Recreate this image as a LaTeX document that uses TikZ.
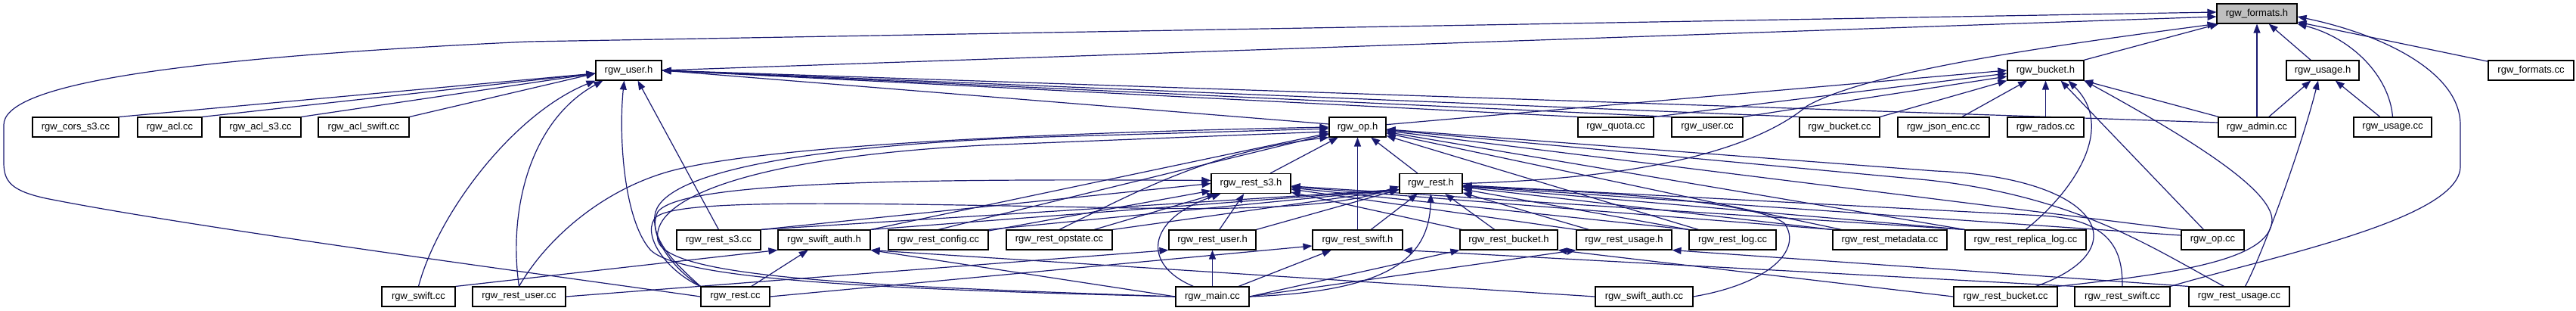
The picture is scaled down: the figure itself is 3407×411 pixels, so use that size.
\documentclass[tikz,border=0pt]{standalone}
\usepackage{fontspec}
\setmainfont{Liberation Sans}
\usetikzlibrary{arrows.meta}
\definecolor{edgecol}{HTML}{191970}
\definecolor{rootfill}{HTML}{BFBFBF}
\pgfdeclarelayer{bg}
\pgfsetlayers{bg,main}
\newcommand{\mkbox}[5]{\node[nd, minimum width=#4] (#1) at (#2,#3) {#5};}
\begin{document}
\begin{tikzpicture}[x=0.5pt,y=-0.5pt,
  nd/.style={draw=black, line width=0.55pt, fill=white, minimum height=13pt, inner sep=0pt, font=\fontsize{6.5pt}{7pt}\selectfont},
  dep/.style={draw=edgecol, line width=0.6pt, -{Triangle[length=6pt,width=4.5pt]}}]
\useasboundingbox (0,0) rectangle (3407,411);
% row 0
\node[nd, fill=rootfill, minimum width=53pt] (F) at (2985,18) {rgw\_formats.h};
% row 1
\mkbox{U}{831.5}{93}{43.5pt}{rgw\_user.h}
\mkbox{B}{2705.5}{93}{50.5pt}{rgw\_bucket.h}
\mkbox{UH}{3072}{93}{48pt}{rgw\_usage.h}
\mkbox{FC}{3347.5}{93}{56.5pt}{rgw\_formats.cc}
% row 2
\mkbox{CORS}{100}{168}{57pt}{rgw\_cors\_s3.cc}
\mkbox{ACL}{224.5}{168}{42.5pt}{rgw\_acl.cc}
\mkbox{ACLS3}{344.5}{168}{53.5pt}{rgw\_acl\_s3.cc}
\mkbox{ACLSW}{481}{168}{60pt}{rgw\_acl\_swift.cc}
\mkbox{OP}{1795.5}{168}{37.5pt}{rgw\_op.h}
\mkbox{QUOTA}{2137}{168}{50pt}{rgw\_quota.cc}
\mkbox{USERCC}{2258}{168}{47pt}{rgw\_user.cc}
\mkbox{BUCKETCC}{2433}{168}{53pt}{rgw\_bucket.cc}
\mkbox{JSON}{2570.5}{168}{60.5pt}{rgw\_json\_enc.cc}
\mkbox{RADOS}{2705.5}{168}{50.5pt}{rgw\_rados.cc}
\mkbox{ADMIN}{2985}{168}{51pt}{rgw\_admin.cc}
\mkbox{USAGECC}{3164.5}{168}{51.5pt}{rgw\_usage.cc}
% row 3
\mkbox{RS3H}{1654.5}{242.5}{52.5pt}{rgw\_rest\_s3.h}
\mkbox{RESTH}{1892.5}{242.5}{41.5pt}{rgw\_rest.h}
% row 4
\mkbox{RS3CC}{950.5}{317}{55.5pt}{rgw\_rest\_s3.cc}
\mkbox{SWAH}{1090}{317}{61pt}{rgw\_swift\_auth.h}
\mkbox{RCONF}{1241}{317}{66pt}{rgw\_rest\_config.cc}
\mkbox{ROPS}{1401}{317}{70pt}{rgw\_rest\_opstate.cc}
\mkbox{RUSERH}{1603.5}{317}{57.5pt}{rgw\_rest\_user.h}
\mkbox{RSWH}{1795.5}{317}{59.5pt}{rgw\_rest\_swift.h}
\mkbox{RBUCKH}{1995.5}{317}{64.5pt}{rgw\_rest\_bucket.h}
\mkbox{RUSAGEH}{2148}{317}{63pt}{rgw\_rest\_usage.h}
\mkbox{RLOG}{2291.5}{317}{57.5pt}{rgw\_rest\_log.cc}
\mkbox{RMETA}{2499.5}{317}{75.5pt}{rgw\_rest\_metadata.cc}
\mkbox{RREPL}{2679}{317}{80pt}{rgw\_rest\_replica\_log.cc}
\mkbox{OPCC}{2926.5}{317}{41.5pt}{rgw\_op.cc}
% row 5
\mkbox{SWIFTCC}{553.5}{392}{48.5pt}{rgw\_swift.cc}
\mkbox{RUSERCC}{686.5}{392}{61.5pt}{rgw\_rest\_user.cc}
\mkbox{RESTCC}{972.5}{392}{45.5pt}{rgw\_rest.cc}
\mkbox{MAIN}{1603.5}{392}{48.5pt}{rgw\_main.cc}
\mkbox{SWAC}{2174.5}{392}{64.5pt}{rgw\_swift\_auth.cc}
\mkbox{RBUCKCC}{2652.5}{392}{68.5pt}{rgw\_rest\_bucket.cc}
\mkbox{RSWCC}{2807}{392}{63pt}{rgw\_rest\_swift.cc}
\mkbox{RUSAGECC}{2961.5}{392}{66.5pt}{rgw\_rest\_usage.cc}

\begin{pgfonlayer}{bg}
% ---- into rgw_formats.h
\draw[dep] (RESTCC.west) .. controls (700,360) and (250,300) .. (60,262) .. controls (15,252) and (5,240) .. (5,215) -- (5,165) .. controls (5,115) and (200,78) .. (700,55) -- ([yshift=1pt]F.west);
\draw[dep] (U.east) -- ([yshift=-2pt]F.west);
\draw[dep] (B) -- (F);
\draw[dep] (UH) -- (F);
\draw[dep] (FC) -- (F);
\draw[dep] (ADMIN) -- (F);
\draw[dep] (USAGECC.north) .. controls (3160,100) and (3110,50) .. (F.south east);
\draw[dep] (RESTH.east) .. controls (2200,235) and (2330,190) .. (2390,140) .. controls (2470,95) and (2700,62) .. (F.south west);
\draw[dep] (RSWCC.north east) .. controls (3000,340) and (3254,290) .. (3254,220) -- (3254,165) .. controls (3254,95) and (3150,45) .. ([yshift=-2pt]F.east);
% ---- into rgw_user.h
\draw[dep] (CORS.north east) -- ([yshift=-2pt]U.west);
\draw[dep] (ACL.north east) -- ([yshift=-2pt]U.west);
\draw[dep] (ACLS3.north east) -- ([yshift=-2pt]U.west);
\draw[dep] (ACLSW.north east) -- ([yshift=-2pt]U.west);
\draw[dep] (SWIFTCC.north) .. controls (580,280) and (680,150) .. (U.south west);
\draw[dep] (RUSERCC.north) .. controls (672,280) and (700,160) .. ([xshift=5pt]U.south west);
\draw[dep] (RS3CC.north) -- ([xshift=6pt]U.south);
\draw[dep] (MAIN.west) .. controls (1200,383) and (900,372) .. (860,330) .. controls (825,290) and (818,180) .. ([xshift=-3pt]U.south);
\draw[dep] ([yshift=2pt]OP.west) -- (U.east);
\draw[dep] (QUOTA.north west) -- (U.east);
\draw[dep] (USERCC.north west) -- (U.east);
\draw[dep] (BUCKETCC.north west) -- (U.east);
\draw[dep] ([yshift=3pt]ADMIN.west) -- (U.east);
% ---- into rgw_bucket.h
\draw[dep] (OP) -- (B.west);
\draw[dep] (QUOTA.north east) -- ([yshift=-2pt]B.west);
\draw[dep] (USERCC.north east) -- ([yshift=-4pt]B.west);
\draw[dep] (BUCKETCC.north east) -- (B.south west);
\draw[dep] (JSON) -- (B);
\draw[dep] (RADOS) -- (B);
\draw[dep] (RREPL.north) .. controls (2740,255) and (2800,170) .. ([xshift=15pt]B.south);
\draw[dep] ([xshift=-6pt]OPCC.north) -- ([xshift=10pt]B.south);
\draw[dep] (RBUCKCC.north east) .. controls (2870,362) and (3005,345) .. (3005,290) .. controls (3003,250) and (2900,185) .. (B.south east);
\draw[dep] (ADMIN) -- (B);
% ---- into rgw_usage.h
\draw[dep] (ADMIN) -- (UH);
\draw[dep] (USAGECC) -- (UH);
\draw[dep] ([xshift=4pt]RUSAGECC.north) .. controls (2995,330) and (3045,190) .. ([xshift=-3pt]UH.south);
% ---- into rgw_op.h
\draw[dep] (RS3H) -- (OP);
\draw[dep] (RESTH) -- (OP);
\draw[dep] (RSWH) -- (OP);
\draw[dep] (SWAH.north east) -- (OP);
\draw[dep] (RCONF.north) -- (OP);
\draw[dep] (ROPS.north) .. controls (1500,255) and (1600,200) .. (OP.south west);
\draw[dep] (RESTCC.north west) .. controls (895,350) and (862,320) .. (866,285) .. controls (872,230) and (1050,195) .. (1350,182) -- ([yshift=-1pt]OP.west);
\draw[dep] (RUSERCC.north) .. controls (720,320) and (790,255) .. (880,228) .. controls (1000,192) and (1400,175) .. (OP.west);
\draw[dep] (MAIN.west) .. controls (1150,378) and (885,368) .. (870,318) .. controls (860,260) and (1000,208) .. (1300,192) .. controls (1500,184) and (1650,178) .. ([yshift=-3pt]OP.west);
\draw[dep] (OPCC.north west) -- (OP);
\draw[dep] (RLOG) -- (OP);
\draw[dep] (RMETA) -- (OP);
\draw[dep] (RREPL) -- (OP);
\draw[dep] ([xshift=20pt]RBUCKCC.north) .. controls (2830,330) and (2780,235) .. (2560,226) -- (OP);
\draw[dep] ([xshift=-10pt]RUSAGECC.north) .. controls (2850,330) and (2750,260) .. (2550,238) -- (OP);
% ---- into rgw_rest_s3.h
\draw[dep] (RS3CC.north east) -- (RS3H.west);
\draw[dep] (RCONF) -- (RS3H);
\draw[dep] (ROPS) -- (RS3H);
\draw[dep] (RUSERH) -- (RS3H);
\draw[dep] ([xshift=12pt]MAIN.north west) .. controls (1510,350) and (1515,290) .. ([xshift=-20pt]RS3H.south);
\draw[dep] (RESTCC.north west) .. controls (890,355) and (855,310) .. (870,280) .. controls (900,240) and (1200,236) .. ([yshift=2pt]RS3H.west);
\draw[dep] (RBUCKH) -- (RS3H);
\draw[dep] (RUSAGEH.north west) -- (RS3H);
\draw[dep] (RLOG.north west) -- (RS3H);
\draw[dep] (RMETA.north west) -- (RS3H);
\draw[dep] (RREPL.north west) -- (RS3H);
% ---- into rgw_rest.h
\draw[dep] (RS3CC.north east) -- ([yshift=-4pt]RESTH.west);
\draw[dep] (SWAH.north east) -- ([yshift=-4pt]RESTH.west);
\draw[dep] (RCONF.north east) -- ([yshift=-4pt]RESTH.west);
\draw[dep] (ROPS.north east) -- ([yshift=-4pt]RESTH.west);
\draw[dep] (RUSERH.north east) -- ([yshift=-4pt]RESTH.west);
\draw[dep] (RESTCC.north west) .. controls (885,360) and (850,315) .. (865,290) .. controls (880,262) and (1100,268) .. (1500,275) .. controls (1780,280) and (1820,255) .. ([yshift=-2pt]RESTH.west);
\draw[dep] (MAIN.east) .. controls (1840,385) and (1890,340) .. (RESTH.south);
\draw[dep] (RSWH) -- (RESTH);
\draw[dep] (RBUCKH) -- (RESTH);
\draw[dep] (RUSAGEH) -- (RESTH);
\draw[dep] (RLOG.north west) -- (RESTH);
\draw[dep] (RMETA.north west) -- (RESTH);
\draw[dep] (RREPL.north west) -- (RESTH);
\draw[dep] ([yshift=3pt]OPCC.west) -- (RESTH);
\draw[dep] (SWAC.east) .. controls (2340,375) and (2385,330) .. (2360,295) .. controls (2320,265) and (2100,252) .. ([yshift=-2pt]RESTH.east);
\draw[dep] (RSWCC.north) .. controls (2807,340) and (2800,290) .. (2700,285) -- (RESTH);
% ---- into rgw_rest_swift.h
\draw[dep] (MAIN) -- (RSWH);
\draw[dep] (RESTCC.east) -- ([yshift=-4pt]RSWH.west);
\draw[dep] (RSWCC.north west) -- (RSWH.south east);
% ---- into rgw_rest_bucket.h / usage.h / user.h
\draw[dep] (MAIN.east) -- (RBUCKH.south west);
\draw[dep] (RBUCKCC.west) -- (RBUCKH.south east);
\draw[dep] (MAIN.east) -- (RUSAGEH.south west);
\draw[dep] (RUSAGECC.north west) -- (RUSAGEH.south east);
\draw[dep] (MAIN) -- (RUSERH);
\draw[dep] (RUSERCC.east) -- (RUSERH.south west);
% ---- into rgw_swift_auth.h
\draw[dep] (SWIFTCC.north east) -- (SWAH.south west);
\draw[dep] (RESTCC) -- (SWAH);
\draw[dep] (MAIN.west) -- (SWAH.south east);
\draw[dep] (SWAC.west) -- (SWAH.south east);
\end{pgfonlayer}
\end{tikzpicture}
\end{document}
